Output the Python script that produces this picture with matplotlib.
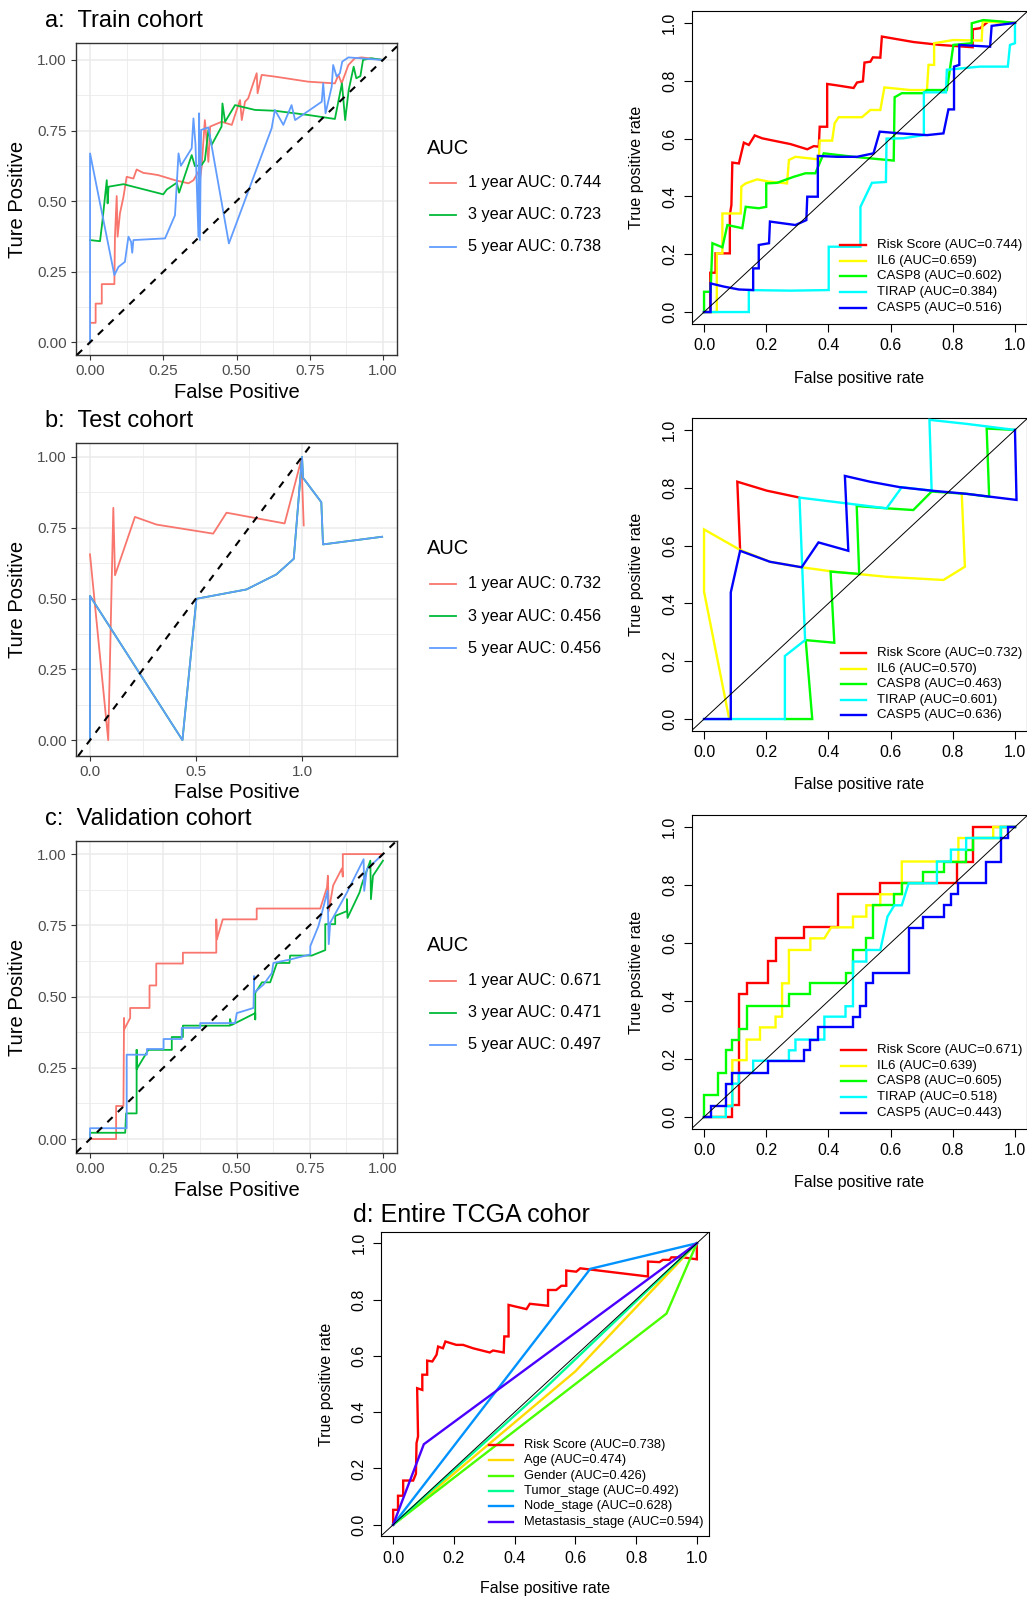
"""ROC panels: ggplot-style time-dependent ROC (left) and base-R gene ROC (right), plus TCGA panel."""
import numpy as np
import matplotlib.pyplot as plt
from matplotlib.lines import Line2D

plt.rcParams['font.family'] = ['Liberation Sans', 'DejaVu Sans']

# ---------------- data (fpr, tpr) ----------------
# a: Train cohort, time ROC
train_1y = [(0.006, 0.069), (0.019, 0.069), (0.019, 0.137), (0.040, 0.137), (0.040, 0.206),
            (0.083, 0.206), (0.085, 0.374), (0.091, 0.518), (0.094, 0.374), (0.102, 0.456),
            (0.114, 0.515), (0.125, 0.586), (0.148, 0.580), (0.159, 0.612), (0.182, 0.600),
            (0.210, 0.596), (0.233, 0.592), (0.290, 0.574), (0.336, 0.563), (0.353, 0.574),
            (0.370, 0.604), (0.375, 0.574), (0.381, 0.622), (0.392, 0.787), (0.398, 0.716),
            (0.404, 0.639), (0.410, 0.764), (0.449, 0.781), (0.484, 0.770), (0.495, 0.805),
            (0.512, 0.858), (0.518, 0.787), (0.529, 0.852), (0.540, 0.864), (0.557, 0.917),
            (0.569, 0.953), (0.572, 0.882), (0.586, 0.947), (0.631, 0.941), (0.745, 0.923),
            (0.836, 0.917), (0.848, 0.947), (0.859, 0.917), (0.882, 0.982), (0.904, 1.006),
            (0.927, 1.009), (1.0, 1.0)]
train_3y = [(0.0, 0.362), (0.034, 0.358), (0.042, 0.427), (0.057, 0.574), (0.060, 0.492),
            (0.063, 0.551), (0.114, 0.560), (0.250, 0.524), (0.262, 0.541), (0.296, 0.565),
            (0.304, 0.530), (0.324, 0.592), (0.347, 0.663), (0.358, 0.624), (0.381, 0.628),
            (0.392, 0.645), (0.404, 0.752), (0.415, 0.699), (0.449, 0.764), (0.452, 0.846),
            (0.461, 0.781), (0.495, 0.840), (0.563, 0.823), (0.631, 0.820), (0.745, 0.805),
            (0.836, 0.791), (0.860, 0.917), (0.871, 0.787), (0.883, 0.893), (0.900, 0.976),
            (0.909, 0.935), (0.923, 0.943), (0.932, 1.0), (0.960, 1.006), (1.0, 1.0)]
train_5y = [(0.0, 0.0), (0.0, 0.669), (0.083, 0.238), (0.097, 0.267), (0.119, 0.285),
            (0.131, 0.374), (0.140, 0.356), (0.144, 0.317), (0.148, 0.362), (0.256, 0.368),
            (0.290, 0.450), (0.302, 0.669), (0.310, 0.625), (0.347, 0.687), (0.353, 0.793),
            (0.360, 0.700), (0.370, 0.374), (0.372, 0.811), (0.375, 0.362), (0.379, 0.752),
            (0.404, 0.761), (0.474, 0.350), (0.620, 0.758), (0.631, 0.823), (0.660, 0.770),
            (0.688, 0.840), (0.700, 0.787), (0.791, 0.852), (0.796, 0.917), (0.804, 0.811),
            (0.825, 0.905), (0.830, 0.982), (0.842, 0.941), (0.853, 0.953), (0.861, 0.994),
            (0.882, 1.009), (1.0, 1.0)]

# b: Test cohort, time ROC
test_1y = [(0.0, 0.656), (0.086, 0.0), (0.110, 0.820), (0.118, 0.582), (0.212, 0.788),
           (0.314, 0.761), (0.581, 0.729), (0.644, 0.803), (0.918, 0.765), (0.997, 0.991),
           (1.008, 0.758)]
test_3y = [(0.0, 0.0), (0.0, 0.509), (0.436, 0.0), (0.502, 0.499), (0.738, 0.532),
           (0.879, 0.585), (0.961, 0.640), (1.0, 1.0), (1.005, 0.926), (1.091, 0.840),
           (1.099, 0.691), (1.378, 0.718)]
test_5y = [(0.0, 0.0), (0.0, 0.509), (0.436, 0.0), (0.502, 0.499), (0.738, 0.532),
           (0.879, 0.585), (0.961, 0.640), (1.0, 1.0), (1.005, 0.926), (1.091, 0.840),
           (1.099, 0.691), (1.378, 0.718)]

# c: Validation cohort, time ROC
valid_1y = [(0.0, 0.0), (0.089, 0.0), (0.089, 0.116), (0.114, 0.116), (0.116, 0.425),
            (0.116, 0.384), (0.137, 0.425), (0.137, 0.460), (0.203, 0.460), (0.203, 0.539),
            (0.226, 0.539), (0.226, 0.616), (0.317, 0.616), (0.317, 0.654), (0.431, 0.654),
            (0.431, 0.771), (0.433, 0.701), (0.453, 0.771), (0.569, 0.771), (0.569, 0.809),
            (0.786, 0.809), (0.809, 0.883), (0.812, 0.924), (0.815, 0.800), (0.830, 0.890),
            (0.860, 0.950), (0.863, 0.921), (0.863, 1.0), (1.0, 1.0)]
valid_3y = [(0.0, 0.0), (0.0, 0.022), (0.120, 0.022), (0.123, 0.090), (0.159, 0.090),
            (0.159, 0.313), (0.159, 0.245), (0.199, 0.313), (0.279, 0.313), (0.279, 0.358),
            (0.317, 0.358), (0.317, 0.398), (0.478, 0.398), (0.478, 0.421), (0.483, 0.400),
            (0.564, 0.442), (0.564, 0.420), (0.564, 0.513), (0.587, 0.550), (0.615, 0.550),
            (0.638, 0.618), (0.681, 0.618), (0.683, 0.644), (0.757, 0.644), (0.803, 0.663),
            (0.803, 0.754), (0.837, 0.754), (0.837, 0.783), (0.877, 0.800), (0.877, 0.842),
            (0.879, 0.776), (0.920, 0.865), (0.928, 0.894), (0.957, 0.977), (0.959, 0.842),
            (0.966, 0.924), (1.0, 0.977)]
valid_5y = [(0.0, 0.0), (0.0, 0.038), (0.125, 0.038), (0.125, 0.296), (0.194, 0.296),
            (0.194, 0.316), (0.251, 0.316), (0.251, 0.351), (0.313, 0.351), (0.313, 0.390),
            (0.376, 0.390), (0.376, 0.407), (0.495, 0.407), (0.501, 0.442), (0.558, 0.460),
            (0.560, 0.572), (0.560, 0.513), (0.592, 0.542), (0.621, 0.583), (0.626, 0.618),
            (0.683, 0.630), (0.752, 0.648), (0.752, 0.677), (0.780, 0.748), (0.811, 0.871),
            (0.815, 0.684), (0.820, 0.759), (0.877, 0.865), (0.934, 0.982), (0.936, 0.871),
            (0.945, 0.947), (1.0, 1.0)]

time_labels_a = ['1 year AUC: 0.744', '3 year AUC: 0.723', '5 year AUC: 0.738']
time_labels_b = ['1 year AUC: 0.732', '3 year AUC: 0.456', '5 year AUC: 0.456']
time_labels_c = ['1 year AUC: 0.671', '3 year AUC: 0.471', '5 year AUC: 0.497']

# right column: gene ROC curves (train / test / validation)
tr_risk = [(0, 0), (0.020, 0), (0.020, 0.136), (0.037, 0.136), (0.037, 0.203), (0.083, 0.203),
           (0.083, 0.336), (0.088, 0.370), (0.091, 0.517), (0.112, 0.514), (0.128, 0.586),
           (0.144, 0.578), (0.163, 0.611), (0.187, 0.601), (0.214, 0.595), (0.278, 0.581),
           (0.332, 0.563), (0.353, 0.574), (0.369, 0.572), (0.372, 0.641), (0.396, 0.641),
           (0.396, 0.789), (0.428, 0.784), (0.481, 0.775), (0.492, 0.794), (0.511, 0.798),
           (0.516, 0.863), (0.535, 0.866), (0.543, 0.881), (0.567, 0.880), (0.572, 0.953),
           (0.674, 0.934), (0.759, 0.924), (0.864, 0.916), (0.864, 0.978), (0.888, 0.982),
           (0.914, 1.005), (1.0, 1.0)]
tr_il6 = [(0, 0), (0.041, 0), (0.041, 0.203), (0.059, 0.203), (0.059, 0.341), (0.118, 0.341),
          (0.120, 0.434), (0.134, 0.445), (0.171, 0.459), (0.209, 0.451), (0.267, 0.445),
          (0.273, 0.526), (0.294, 0.537), (0.369, 0.528), (0.372, 0.593), (0.412, 0.593),
          (0.420, 0.653), (0.433, 0.674), (0.508, 0.674), (0.535, 0.699), (0.567, 0.699),
          (0.580, 0.777), (0.663, 0.768), (0.717, 0.768), (0.722, 0.855), (0.740, 0.855),
          (0.740, 0.930), (0.802, 0.941), (0.893, 0.939), (0.896, 1.005), (1.0, 1.0)]
tr_casp8 = [(0, 0), (0, 0.070), (0.021, 0.070), (0.027, 0.238), (0.059, 0.224), (0.075, 0.301),
            (0.123, 0.290), (0.134, 0.364), (0.176, 0.359), (0.200, 0.364), (0.200, 0.445),
            (0.235, 0.447), (0.289, 0.468), (0.326, 0.480), (0.358, 0.480), (0.385, 0.549),
            (0.481, 0.537), (0.610, 0.524), (0.613, 0.743), (0.636, 0.757), (0.706, 0.757),
            (0.717, 0.768), (0.781, 0.768), (0.802, 0.924), (0.861, 0.930), (0.861, 0.999),
            (0.898, 1.010), (0.957, 1.005), (1.0, 1.0)]
tr_tirap = [(0, 0), (0.144, 0), (0.144, 0.076), (0.278, 0.074), (0.401, 0.076), (0.401, 0.226),
            (0.503, 0.226), (0.503, 0.364), (0.540, 0.447), (0.585, 0.450), (0.587, 0.600),
            (0.640, 0.601), (0.707, 0.612), (0.707, 0.760), (0.778, 0.760), (0.781, 0.838),
            (0.887, 0.849), (0.977, 0.849), (0.984, 0.924), (1.0, 0.930), (1.0, 1.0)]
tr_casp5 = [(0, 0), (0.021, 0), (0.021, 0.099), (0.064, 0.088), (0.112, 0.078), (0.158, 0.076),
            (0.158, 0.151), (0.176, 0.151), (0.176, 0.232), (0.209, 0.238), (0.212, 0.313),
            (0.294, 0.301), (0.329, 0.318), (0.332, 0.399), (0.366, 0.399), (0.366, 0.540),
            (0.428, 0.537), (0.492, 0.537), (0.545, 0.549), (0.565, 0.624), (0.631, 0.618),
            (0.717, 0.612), (0.770, 0.618), (0.786, 0.701), (0.804, 0.701), (0.804, 0.849),
            (0.821, 0.855), (0.821, 0.924), (0.920, 0.918), (0.925, 0.990), (1.0, 1.0)]

te_risk = [(0.116, 0.585), (0.107, 0.821), (0.202, 0.790), (0.303, 0.767)]
te_il6 = [(0.081, 0), (0, 0.441), (0, 0.656), (0.116, 0.585), (0.212, 0.544), (0.314, 0.525),
          (0.416, 0.510), (0.587, 0.492), (0.770, 0.481), (0.839, 0.527), (0.829, 0.775)]
te_casp8 = [(0.260, 0), (0.348, 0), (0.327, 0.273), (0.419, 0.264), (0.407, 0.510),
            (0.499, 0.502), (0.491, 0.737), (0.587, 0.729), (0.673, 0.723), (0.732, 0.787),
            (0.845, 0.779), (0.917, 0.769), (0.909, 1.005), (1.0, 1.0)]
te_tirap = [(0, 0), (0.260, 0), (0.260, 0.218), (0.325, 0.273), (0.307, 0.766), (0.587, 0.729),
            (0.636, 0.802), (0.732, 0.790), (0.725, 1.035), (0.845, 1.021), (1.0, 1.0)]
te_casp5 = [(0, 0), (0.086, 0), (0.086, 0.438), (0.116, 0.582), (0.212, 0.544), (0.314, 0.525),
            (0.368, 0.611), (0.464, 0.582), (0.453, 0.841), (0.534, 0.821), (0.630, 0.802),
            (0.732, 0.790), (0.845, 0.779), (1.005, 0.758), (1.0, 1.0)]

va_risk = [(0, 0), (0.091, 0), (0.091, 0.040), (0.112, 0.040), (0.112, 0.423), (0.137, 0.423),
           (0.137, 0.461), (0.205, 0.461), (0.205, 0.539), (0.230, 0.539), (0.230, 0.616),
           (0.321, 0.616), (0.321, 0.654), (0.430, 0.654), (0.430, 0.768), (0.567, 0.768),
           (0.567, 0.806), (0.815, 0.806), (0.815, 0.881), (0.864, 0.881), (0.864, 1.0), (1.0, 1.0)]
va_il6 = [(0, 0), (0.070, 0), (0.070, 0.040), (0.091, 0.040), (0.091, 0.196), (0.137, 0.196),
          (0.137, 0.267), (0.180, 0.267), (0.180, 0.309), (0.230, 0.309), (0.230, 0.346),
          (0.251, 0.346), (0.251, 0.461), (0.273, 0.461), (0.273, 0.576), (0.342, 0.576),
          (0.342, 0.616), (0.387, 0.616), (0.409, 0.654), (0.479, 0.654), (0.479, 0.691),
          (0.522, 0.691), (0.522, 0.730), (0.567, 0.730), (0.567, 0.768), (0.636, 0.768),
          (0.636, 0.881), (0.818, 0.881), (0.818, 0.962), (0.930, 0.962), (0.930, 1.0), (1.0, 1.0)]
va_casp8 = [(0, 0), (0, 0.075), (0.045, 0.075), (0.045, 0.152), (0.070, 0.152), (0.070, 0.230),
            (0.091, 0.230), (0.091, 0.267), (0.112, 0.267), (0.112, 0.305), (0.137, 0.305),
            (0.137, 0.382), (0.273, 0.382), (0.273, 0.423), (0.342, 0.423), (0.342, 0.461),
            (0.455, 0.461), (0.455, 0.498), (0.479, 0.498), (0.479, 0.576), (0.522, 0.576),
            (0.522, 0.616), (0.545, 0.616), (0.545, 0.730), (0.612, 0.730), (0.612, 0.768),
            (0.636, 0.768), (0.636, 0.806), (0.704, 0.806), (0.704, 0.844), (0.772, 0.844),
            (0.772, 0.881), (0.843, 0.881), (0.843, 0.922), (0.864, 0.922), (0.864, 0.962),
            (0.954, 0.962), (0.954, 1.0), (1.0, 1.0)]
va_tirap = [(0, 0), (0.070, 0), (0.070, 0.037), (0.091, 0.037), (0.091, 0.115), (0.112, 0.115),
            (0.112, 0.152), (0.158, 0.152), (0.158, 0.194), (0.273, 0.194), (0.273, 0.230),
            (0.294, 0.230), (0.294, 0.267), (0.387, 0.267), (0.387, 0.346), (0.455, 0.346),
            (0.455, 0.382), (0.479, 0.382), (0.479, 0.536), (0.522, 0.536), (0.522, 0.576),
            (0.567, 0.576), (0.590, 0.691), (0.612, 0.730), (0.636, 0.730), (0.658, 0.806),
            (0.749, 0.806), (0.749, 0.881), (0.794, 0.881), (0.794, 0.922), (0.843, 0.922),
            (0.843, 0.962), (0.954, 0.962), (0.954, 1.0), (1.0, 1.0)]
va_casp5 = [(0, 0), (0.024, 0), (0.024, 0.038), (0.070, 0.038), (0.070, 0.115), (0.091, 0.115),
            (0.091, 0.152), (0.205, 0.152), (0.205, 0.194), (0.321, 0.194), (0.321, 0.230),
            (0.342, 0.230), (0.342, 0.267), (0.366, 0.267), (0.366, 0.309), (0.479, 0.309),
            (0.479, 0.346), (0.500, 0.346), (0.500, 0.382), (0.522, 0.382), (0.522, 0.461),
            (0.545, 0.461), (0.545, 0.498), (0.658, 0.498), (0.658, 0.653), (0.704, 0.653),
            (0.704, 0.691), (0.772, 0.691), (0.772, 0.730), (0.794, 0.730), (0.794, 0.768),
            (0.818, 0.768), (0.818, 0.806), (0.907, 0.806), (0.907, 0.881), (0.954, 0.881),
            (0.954, 0.962), (0.979, 0.962), (0.979, 1.0), (1.0, 1.0)]

gene_names = ['Risk Score', 'IL6', 'CASP8', 'TIRAP', 'CASP5']
auc_train = ['0.744', '0.659', '0.602', '0.384', '0.516']
auc_test = ['0.732', '0.570', '0.463', '0.601', '0.636']
auc_valid = ['0.671', '0.639', '0.605', '0.518', '0.443']

# d: entire TCGA cohort
tcga_risk = [(0, 0), (0, 0.053), (0.016, 0.053), (0.016, 0.103), (0.033, 0.103), (0.033, 0.157),
             (0.066, 0.157), (0.075, 0.181), (0.077, 0.290), (0.082, 0.314), (0.079, 0.485),
             (0.096, 0.479), (0.096, 0.533), (0.112, 0.533), (0.112, 0.583), (0.129, 0.580),
             (0.143, 0.604), (0.148, 0.633), (0.164, 0.627), (0.172, 0.651), (0.208, 0.639),
             (0.230, 0.639), (0.263, 0.627), (0.318, 0.612), (0.329, 0.619), (0.364, 0.612),
             (0.366, 0.669), (0.380, 0.669), (0.380, 0.781), (0.439, 0.766), (0.450, 0.785),
             (0.510, 0.778), (0.510, 0.834), (0.537, 0.834), (0.554, 0.849), (0.570, 0.849),
             (0.570, 0.903), (0.603, 0.899), (0.616, 0.911), (0.839, 0.882), (0.839, 0.935),
             (0.877, 0.933), (0.888, 0.941), (0.910, 0.941), (0.916, 0.950), (0.954, 0.950),
             (1.0, 0.943), (1.0, 1.0)]
tcga_age = [(0, 0), (0.600, 0.545), (1, 1)]
tcga_gender = [(0, 0), (0.900, 0.750), (1, 1)]
tcga_tumor = [(0, 0), (0.500, 0.485), (1, 1)]
tcga_node = [(0, 0), (0.649, 0.909), (1, 1)]
tcga_meta = [(0, 0), (0.101, 0.286), (1, 1)]
tcga_names = ['Risk Score', 'Age', 'Gender', 'Tumor_stage', 'Node_stage', 'Metastasis_stage']
tcga_auc = ['0.738', '0.474', '0.426', '0.492', '0.628', '0.594']

GG_COLS = ['#F8766D', '#00BA38', '#619CFF']
GENE_COLS = ['#FF0000', '#FFFF00', '#00FF00', '#00FFFF', '#0000FF']
TCGA_COLS = ['#FF0000', '#FFDB00', '#49FF00', '#00FF92', '#0092FF', '#4900FF']

# ---------------- layout (pixel boxes of the reference) ----------------
W, H = 1027, 1599
fig = plt.figure(figsize=(W / 100, H / 100), dpi=100)


def box(x0, y0, x1, y1):
    return fig.add_axes([x0 / W, 1 - y1 / H, (x1 - x0) / W, (y1 - y0) / H])


def ftext(x, y, s, **kw):
    fig.text(x / W, 1 - y / H, s, **kw)


def key_line(x0, x1, y, color, lw):
    fig.add_artist(Line2D([x0 / W, x1 / W], [1 - y / H] * 2, color=color, lw=lw,
                          transform=fig.transFigure))


def gg_panel(rect, xlim, ylim, xmajor, xminor, xfmt, curves, title, xlab_y,
             leg_y, labels):
    ax = box(*rect)
    for pts, c in zip(curves, GG_COLS):
        arr = np.array(pts)
        ax.plot(arr[:, 0], arr[:, 1], color=c, lw=1.3, zorder=3)
    ax.axline((0, 0), (1, 1), color='black', ls=(0, (3.5, 3.5)), lw=1.5, zorder=4)
    ax.set_xlim(*xlim)
    ax.set_ylim(*ylim)
    ax.set_xticks(xmajor)
    ax.set_xticklabels([xfmt % v for v in xmajor])
    ax.set_xticks(xminor, minor=True)
    yt = [0, 0.25, 0.5, 0.75, 1.0]
    ax.set_yticks(yt)
    ax.set_yticklabels(['%.2f' % v for v in yt])
    ax.set_yticks([0.125, 0.375, 0.625, 0.875], minor=True)
    ax.grid(which='major', color='#EBEBEB', lw=1.1)
    ax.grid(which='minor', color='#EBEBEB', lw=0.6)
    ax.set_axisbelow(True)
    ax.tick_params(which='minor', length=0)
    ax.tick_params(which='major', length=3.5, width=0.8, color='#333333',
                   labelcolor='#4D4D4D', labelsize=11, pad=3)
    for s in ax.spines.values():
        s.set_color('#333333')
        s.set_linewidth(1.0)
    x0, y0, x1, y1 = rect
    ftext(45, y0 - 22, title, fontsize=17, va='center', ha='left')
    ftext(18, (y0 + y1) / 2, 'Ture Positive', fontsize=14.5, rotation=90,
          ha='center', va='center')
    ftext((x0 + x1) / 2, xlab_y, 'False Positive', fontsize=14.5, ha='center', va='center')
    # legend
    ftext(427, leg_y, 'AUC', fontsize=14.5, va='center', ha='left')
    for i, (lab, c) in enumerate(zip(labels, GG_COLS)):
        yy = leg_y + 35 + 32 * i
        key_line(430, 456, yy, c, 1.3)
        ftext(468, yy, lab, fontsize=11.7, va='center', ha='left')
    return ax


def r_panel(rect, curves, colors, labels, xlab_y, ylab_x, leg, fs_leg=9.5):
    ax = box(*rect)
    for pts, c in zip(curves, colors):
        arr = np.array(pts)
        ax.plot(arr[:, 0], arr[:, 1], color=c, lw=1.7, zorder=3, solid_joinstyle='miter')
    ax.axline((0, 0), (1, 1), color='black', lw=0.7, zorder=4)
    ax.set_xlim(-0.04, 1.04)
    ax.set_ylim(-0.04, 1.04)
    t = [0, 0.2, 0.4, 0.6, 0.8, 1.0]
    ax.set_xticks(t)
    ax.set_xticklabels(['%.1f' % v for v in t])
    ax.set_yticks(t)
    ax.set_yticklabels(['%.1f' % v for v in t], rotation=90, va='center')
    ax.tick_params(direction='out', length=5.5, width=0.8, labelsize=11.5, pad=5)
    for s in ax.spines.values():
        s.set_color('black')
        s.set_linewidth(0.8)
    x0, y0, x1, y1 = rect
    ftext(ylab_x, (y0 + y1) / 2, 'True positive rate', fontsize=11.5, rotation=90,
          ha='center', va='center')
    ftext((x0 + x1) / 2, xlab_y, 'False positive rate', fontsize=11.5,
          ha='center', va='center')
    lx0, lx1, tx, ly, dy = leg
    for i, (lab, c) in enumerate(zip(labels, colors)):
        yy = ly + dy * i
        key_line(lx0, lx1, yy, c, 1.7)
        ftext(tx, yy, lab, fontsize=fs_leg, va='center', ha='left')
    return ax


# left column
gg_panel((76, 43, 397, 355), (-0.048, 1.048), (-0.045, 1.06),
         [0, 0.25, 0.5, 0.75, 1.0], [0.125, 0.375, 0.625, 0.875], '%.2f',
         [train_1y, train_3y, train_5y], 'a:  Train cohort', 392, 148, time_labels_a)
gg_panel((76, 443, 397, 756), (-0.066, 1.448), (-0.056, 1.049),
         [0, 0.5, 1.0], [0.25, 0.75, 1.25], '%.1f',
         [test_1y, test_3y, test_5y], 'b:  Test cohort', 793, 549, time_labels_b)
gg_panel((76, 841, 397, 1153), (-0.048, 1.048), (-0.049, 1.046),
         [0, 0.25, 0.5, 0.75, 1.0], [0.125, 0.375, 0.625, 0.875], '%.2f',
         [valid_1y, valid_3y, valid_5y], 'c:  Validation cohort', 1191, 946, time_labels_c)

# right column
r_panel((691.6, 11.4, 1027.4, 323.6), [tr_risk, tr_il6, tr_casp8, tr_tirap, tr_casp5],
        GENE_COLS, ['%s (AUC=%s)' % (n, a) for n, a in zip(gene_names, auc_train)],
        378, 636, (840, 866, 877, 245, 15.7))
r_panel((691.6, 418.4, 1027.4, 730.6), [te_risk, te_il6, te_casp8, te_tirap, te_casp5],
        GENE_COLS, ['%s (AUC=%s)' % (n, a) for n, a in zip(gene_names, auc_test)],
        785, 636, (841, 866, 877, 653, 15.6))
r_panel((691.6, 815.4, 1027.4, 1128.6), [va_risk, va_il6, va_casp8, va_tirap, va_casp5],
        GENE_COLS, ['%s (AUC=%s)' % (n, a) for n, a in zip(gene_names, auc_valid)],
        1183, 636, (841, 866, 877, 1050, 15.7))

# d: entire TCGA
r_panel((381, 1232, 709, 1536),
        [tcga_risk, tcga_age, tcga_gender, tcga_tumor, tcga_node, tcga_meta],
        TCGA_COLS, ['%s (AUC=%s)' % (n, a) for n, a in zip(tcga_names, tcga_auc)],
        1589, 327, (489, 513, 524, 1445, 15.3), fs_leg=9.3)
ftext(353, 1215, 'd: Entire TCGA cohor', fontsize=18, va='center', ha='left')

fig.savefig('out.png', dpi=100)
